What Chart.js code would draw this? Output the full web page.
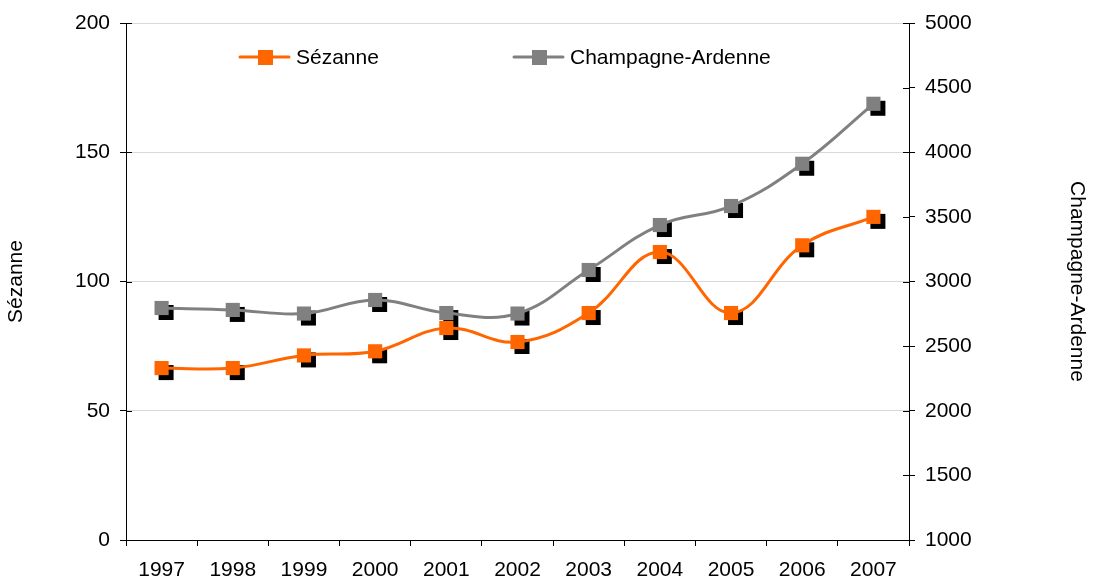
<!DOCTYPE html>
<html>
<head>
<meta charset="utf-8">
<script src="https://cdn.jsdelivr.net/npm/chart.js@4/dist/chart.umd.min.js"></script>
<style>
  html, body { margin: 0; padding: 0; background: #fff; }
  #wrap { width: 1093px; height: 581px; }
</style>
</head>
<body>
<div id="wrap"><canvas id="chart"></canvas></div>
<script>
const years = ['1997', '1998', '1999', '2000', '2001', '2002', '2003', '2004', '2005', '2006', '2007'];
const sezanne = [66.5, 66.5, 71.4, 73, 82, 76.6, 87.8, 111.4, 87.8, 114, 125];
const champagne = [2795, 2780, 2752, 2857, 2756, 2752, 3089, 3437, 3584, 3911, 4375];
const leftTicks = [0, 50, 100, 150, 200];
const rightTicks = [1000, 1500, 2000, 2500, 3000, 3500, 4000, 4500, 5000];

const FONT = 'Liberation Sans, Arial, sans-serif';

// black drop shadow under each marker
const markerShadow = {
    id: 'markerShadow',
    beforeDatasetsDraw(chart) {
        const ctx = chart.ctx;
        ctx.save();
        ctx.fillStyle = '#000';
        chart.data.datasets.forEach((ds, i) => {
            chart.getDatasetMeta(i).data.forEach(pt => {
                ctx.fillRect(pt.x - 7 + 4, pt.y - 7 + 4, 15, 15);
            });
        });
        ctx.restore();
    }
};

// short ticks crossing into the plot on both value axes
const innerTicks = {
    id: 'innerTicks',
    afterDraw(chart) {
        const ctx = chart.ctx;
        ctx.save();
        ctx.strokeStyle = '#000';
        ctx.lineWidth = 1;
        ['y', 'y1'].forEach(id => {
            const s = chart.scales[id];
            const x = id === 'y' ? s.right : s.left;
            const dir = id === 'y' ? 1 : -1;
            s.ticks.forEach((t, i) => {
                const y = Math.round(s.getPixelForTick(i)) + 0.5;
                ctx.beginPath();
                ctx.moveTo(x, y);
                ctx.lineTo(x + dir * 6, y);
                ctx.stroke();
            });
        });
        ctx.restore();
    }
};

// legend drawn inside the plot area, line + square marker style
const insideLegend = {
    id: 'insideLegend',
    afterDraw(chart) {
        const ctx = chart.ctx;
        const starts = [240, 514];
        const y = 57;
        ctx.save();
        ctx.font = '21px ' + FONT;
        ctx.textBaseline = 'middle';
        chart.data.datasets.forEach((ds, i) => {
            const x0 = starts[i];
            ctx.strokeStyle = ds.borderColor;
            ctx.lineWidth = 3;
            ctx.lineCap = 'round';
            ctx.beginPath();
            ctx.moveTo(x0, y);
            ctx.lineTo(x0 + 49, y);
            ctx.stroke();
            ctx.fillStyle = ds.borderColor;
            ctx.fillRect(x0 + 18, y - 7, 15, 15);
            ctx.fillStyle = '#000';
            ctx.fillText(ds.label, x0 + 56, y + 1);
        });
        ctx.restore();
    }
};

new Chart(document.getElementById('chart'), {
    type: 'line',
    data: {
        labels: years,
        datasets: [
            {
                label: 'Sézanne',
                data: sezanne,
                yAxisID: 'y',
                borderColor: '#FF6600',
                backgroundColor: '#FF6600',
                borderWidth: 3,
                tension: 0.4,
                pointStyle: 'rect',
                pointRadius: 10,
                pointBorderWidth: 0,
                pointBackgroundColor: '#FF6600'
            },
            {
                label: 'Champagne-Ardenne',
                data: champagne,
                yAxisID: 'y1',
                borderColor: '#808080',
                backgroundColor: '#808080',
                borderWidth: 3,
                tension: 0.4,
                pointStyle: 'rect',
                pointRadius: 10,
                pointBorderWidth: 0,
                pointBackgroundColor: '#808080'
            }
        ]
    },
    options: {
        responsive: true,
        maintainAspectRatio: false,
        animation: false,
        layout: { padding: { left: 4, right: 4, top: 23, bottom: 0 } },
        plugins: {
            legend: { display: false },
            tooltip: { enabled: false }
        },
        scales: {
            x: {
                offset: true,
                grid: { offset: true, drawOnChartArea: false, color: '#000', tickLength: 6 },
                border: { color: '#000' },
                ticks: { color: '#000', font: { family: FONT, size: 21 }, padding: 12, maxRotation: 0 },
                afterFit(scale) { scale.height = 41; }
            },
            y: {
                position: 'left',
                min: 0,
                max: 200,
                afterBuildTicks(scale) { scale.ticks = leftTicks.map(v => ({ value: v })); },
                grid: { color: '#d9d9d9', tickColor: '#000', tickLength: 6 },
                border: { color: '#000' },
                ticks: { color: '#000', font: { family: FONT, size: 21 }, padding: 10, callback: v => String(v) },
                title: { display: true, text: 'Sézanne', color: '#000', font: { family: FONT, size: 21 }, padding: 0 },
                afterFit(scale) { scale.width = 122; }
            },
            y1: {
                position: 'right',
                min: 1000,
                max: 5000,
                afterBuildTicks(scale) { scale.ticks = rightTicks.map(v => ({ value: v })); },
                grid: { drawOnChartArea: false, color: '#000', tickLength: 6 },
                border: { color: '#000' },
                ticks: { color: '#000', font: { family: FONT, size: 21 }, padding: 10, callback: v => String(v) },
                title: { display: true, text: 'Champagne-Ardenne', color: '#000', font: { family: FONT, size: 21 }, padding: 0 },
                afterFit(scale) { scale.width = 180; }
            }
        }
    },
    plugins: [markerShadow, innerTicks, insideLegend]
});
</script>
</body>
</html>
